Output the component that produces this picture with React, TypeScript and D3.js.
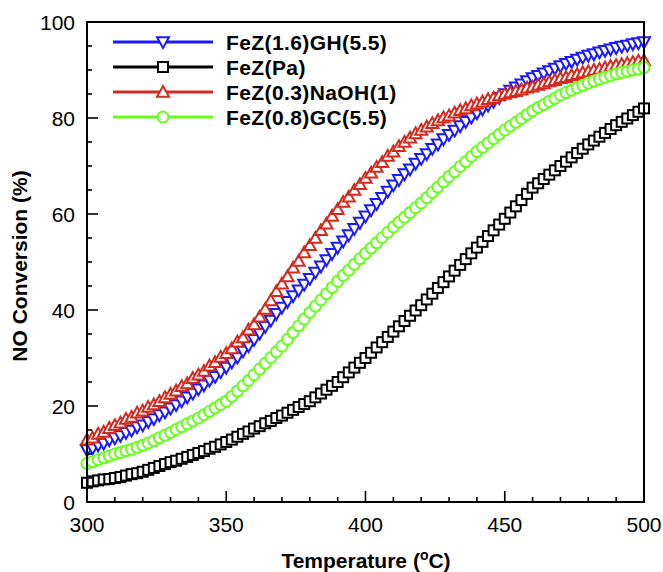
import React from 'react'
import * as d3 from 'd3'

// temperatures (°C), every 2 degrees
const temps = d3.range(300, 501, 2)

const fezGH = [10.8, 11.2, 11.8, 12.2, 12.9, 13.3, 13.8, 14.4, 14.9, 15.6, 16.0, 16.7, 17.3, 18.1, 18.7, 19.5, 20.2, 21.0, 21.8, 22.6, 23.5, 24.3, 25.3, 26.1, 27.1, 28.0, 29.1, 30.1, 31.4, 32.5, 33.8, 35.1, 36.5, 37.8, 39.2, 40.5, 41.7, 42.9, 44.1, 45.3, 46.5, 47.8, 49.1, 50.4, 51.7, 53.0, 54.3, 55.6, 56.9, 58.2, 59.5, 60.8, 62.1, 63.4, 64.7, 66.0, 67.1, 68.3, 69.3, 70.5, 71.5, 72.5, 73.6, 74.5, 75.6, 76.5, 77.4, 78.3, 79.2, 80.1, 81.0, 81.8, 82.6, 83.4, 84.2, 85.0, 85.7, 86.4, 87.0, 87.7, 88.3, 88.8, 89.3, 89.8, 90.3, 90.8, 91.3, 91.7, 92.2, 92.6, 93.0, 93.3, 93.7, 94.0, 94.3, 94.6, 94.9, 95.1, 95.4, 95.6, 95.8]

const fezPa = [4.0, 4.3, 4.5, 4.7, 4.8, 5.0, 5.2, 5.5, 5.8, 6.0, 6.3, 6.7, 7.1, 7.5, 7.9, 8.3, 8.6, 9.0, 9.4, 9.8, 10.2, 10.6, 11.1, 11.5, 12.0, 12.5, 13.0, 13.6, 14.2, 14.7, 15.3, 15.8, 16.4, 16.9, 17.5, 18.0, 18.6, 19.2, 19.8, 20.4, 21.0, 21.8, 22.6, 23.4, 24.2, 25.0, 26.0, 27.0, 28.0, 29.0, 30.0, 31.1, 32.2, 33.3, 34.4, 35.5, 36.6, 37.7, 38.8, 39.9, 41.0, 42.2, 43.4, 44.6, 45.8, 47.0, 48.2, 49.4, 50.6, 51.8, 53.0, 54.2, 55.4, 56.6, 57.8, 59.0, 60.3, 61.6, 62.9, 64.2, 65.5, 66.4, 67.3, 68.2, 69.1, 70.0, 70.9, 71.8, 72.7, 73.6, 74.5, 75.3, 76.1, 76.9, 77.7, 78.5, 79.2, 79.9, 80.6, 81.3, 82.0]

const fezNaOH = [13.0, 13.4, 14.2, 14.6, 15.4, 16.0, 16.5, 17.3, 17.7, 18.6, 19.0, 19.8, 20.3, 21.0, 21.8, 22.5, 23.2, 24.1, 24.7, 25.8, 26.5, 27.3, 28.4, 29.1, 30.2, 31.0, 32.0, 33.4, 34.3, 35.9, 37.0, 38.6, 40.2, 42.0, 43.9, 45.5, 47.0, 48.8, 50.2, 52.0, 53.5, 55.0, 56.6, 58.0, 59.6, 61.0, 62.5, 63.6, 65.0, 66.2, 67.5, 68.6, 69.8, 70.8, 72.1, 73.0, 74.1, 75.0, 75.9, 76.8, 77.5, 78.2, 78.9, 79.5, 80.1, 80.5, 81.1, 81.6, 82.0, 82.6, 83.0, 83.4, 83.9, 84.2, 84.7, 85.0, 85.3, 85.6, 85.9, 86.3, 86.5, 86.9, 87.2, 87.6, 87.9, 88.3, 88.5, 88.9, 89.1, 89.5, 89.7, 90.0, 90.2, 90.5, 90.8, 91.0, 91.2, 91.4, 91.6, 91.9, 92.0]

const fezGC = [8.0, 8.4, 8.8, 9.2, 9.6, 10.0, 10.3, 10.7, 11.0, 11.4, 11.8, 12.3, 12.8, 13.4, 13.9, 14.5, 15.1, 15.7, 16.3, 16.9, 17.5, 18.2, 18.9, 19.6, 20.3, 21.0, 22.0, 23.1, 24.2, 25.3, 26.5, 27.7, 28.9, 30.1, 31.3, 32.5, 33.9, 35.3, 36.7, 38.1, 39.5, 40.8, 42.1, 43.4, 44.7, 46.0, 47.2, 48.3, 49.5, 50.7, 51.8, 52.9, 54.0, 55.1, 56.2, 57.3, 58.3, 59.3, 60.3, 61.3, 62.3, 63.4, 64.5, 65.6, 66.7, 67.8, 68.8, 69.9, 70.9, 72.0, 73.0, 73.9, 74.8, 75.7, 76.6, 77.5, 78.3, 79.1, 79.9, 80.7, 81.5, 82.2, 82.8, 83.5, 84.1, 84.8, 85.3, 85.8, 86.3, 86.8, 87.3, 87.7, 88.1, 88.5, 88.8, 89.2, 89.5, 89.7, 90.0, 90.2, 90.5]

const seriesNames = ['FeZ(1.6)GH(5.5)', 'FeZ(Pa)', 'FeZ(0.3)NaOH(1)', 'FeZ(0.8)GC(5.5)']
const seriesValues = [fezGH, fezPa, fezNaOH, fezGC]
const seriesColors = ['#1a1aff', '#000000', '#d42a1e', '#66ff1a']
const seriesSymbols = ['triDown', 'square', 'triUp', 'circle']

const xTicks = [300, 350, 400, 450, 500]
const yTicks = [0, 20, 40, 60, 80, 100]

const W = 663
const H = 572
const left = 87
const right = 644
const top = 22
const bottom = 502
const font = "'Liberation Sans', Arial, Helvetica, sans-serif"

function Marker({ kind, x, y, color }: { kind: string; x: number; y: number; color: string }) {
  const sw = 2
  if (kind === 'square') {
    return <rect x={x - 5} y={y - 5} width={10} height={10} fill="white" stroke={color} strokeWidth={sw} />
  }
  if (kind === 'circle') {
    return <circle cx={x} cy={y} r={5.5} fill="white" stroke={color} strokeWidth={sw} />
  }
  const s = 6
  const pts = kind === 'triUp'
    ? [[x, y - s], [x + s, y + s * 0.8], [x - s, y + s * 0.8]]
    : [[x, y + s], [x + s, y - s * 0.8], [x - s, y - s * 0.8]]
  return <polygon points={pts.map(p => p.join(',')).join(' ')} fill="white" stroke={color} strokeWidth={sw} strokeLinejoin="miter" />
}

export default function App() {
  const xScale = d3.scaleLinear().domain([300, 500]).range([left, right])
  const yScale = d3.scaleLinear().domain([0, 100]).range([bottom, top])

  const xMinor = d3.range(300, 501, 10)
  const yMinor = d3.range(0, 101, 5)

  const legendY = [42, 67, 92, 117]

  return (
    <svg width={W} height={H} style={{ position: 'absolute', left: 0, top: 0 }} fontFamily={font}>
      <rect width={W} height={H} fill="white" />
      {seriesValues.map((vals, si) => (
        <g key={`s_${si}`}>
          {vals.map((v, i) => (
            <Marker key={`m_${si}_${i}`} kind={seriesSymbols[si]} x={xScale(temps[i])} y={yScale(v)} color={seriesColors[si]} />
          ))}
        </g>
      ))}
      {/* frame */}
      <rect x={left} y={top} width={right - left} height={bottom - top} fill="none" stroke="black" strokeWidth={2} />
      {xMinor.map(t => (
        <line key={`xt_${t}`} x1={xScale(t)} x2={xScale(t)} y1={bottom} y2={bottom - (t % 50 === 0 ? 11 : 5)} stroke="black" strokeWidth={1.6} />
      ))}
      {yMinor.map(t => (
        <line key={`yt_${t}`} x1={left} x2={left + (t % 20 === 0 ? 11 : 5)} y1={yScale(t)} y2={yScale(t)} stroke="black" strokeWidth={1.6} />
      ))}
      {xTicks.map(t => (
        <text key={`xl_${t}`} x={xScale(t)} y={532} textAnchor="middle" fontSize={21}>{t}</text>
      ))}
      {yTicks.map(t => (
        <text key={`yl_${t}`} x={75} y={yScale(t) + 7.5} textAnchor="end" fontSize={21}>{t}</text>
      ))}
      <text x={366} y={568} textAnchor="middle" fontSize={21} fontWeight="bold">
        Temperature (<tspan dy={-8} fontSize={14}>o</tspan><tspan dy={8}>C)</tspan>
      </text>
      <text transform={`translate(27,${(top + bottom) / 2 + 4}) rotate(-90)`} textAnchor="middle" fontSize={21} fontWeight="bold">
        NO Conversion (%)
      </text>
      {seriesNames.map((name, i) => (
        <g key={`lg_${i}`}>
          <line x1={113} x2={213} y1={legendY[i]} y2={legendY[i]} stroke={seriesColors[i]} strokeWidth={3} />
          <Marker kind={seriesSymbols[i]} x={163} y={legendY[i]} color={seriesColors[i]} />
          <text x={226} y={legendY[i] + 7.5} fontSize={21} fontWeight="bold" letterSpacing={0.4}>{name}</text>
        </g>
      ))}
    </svg>
  )
}
